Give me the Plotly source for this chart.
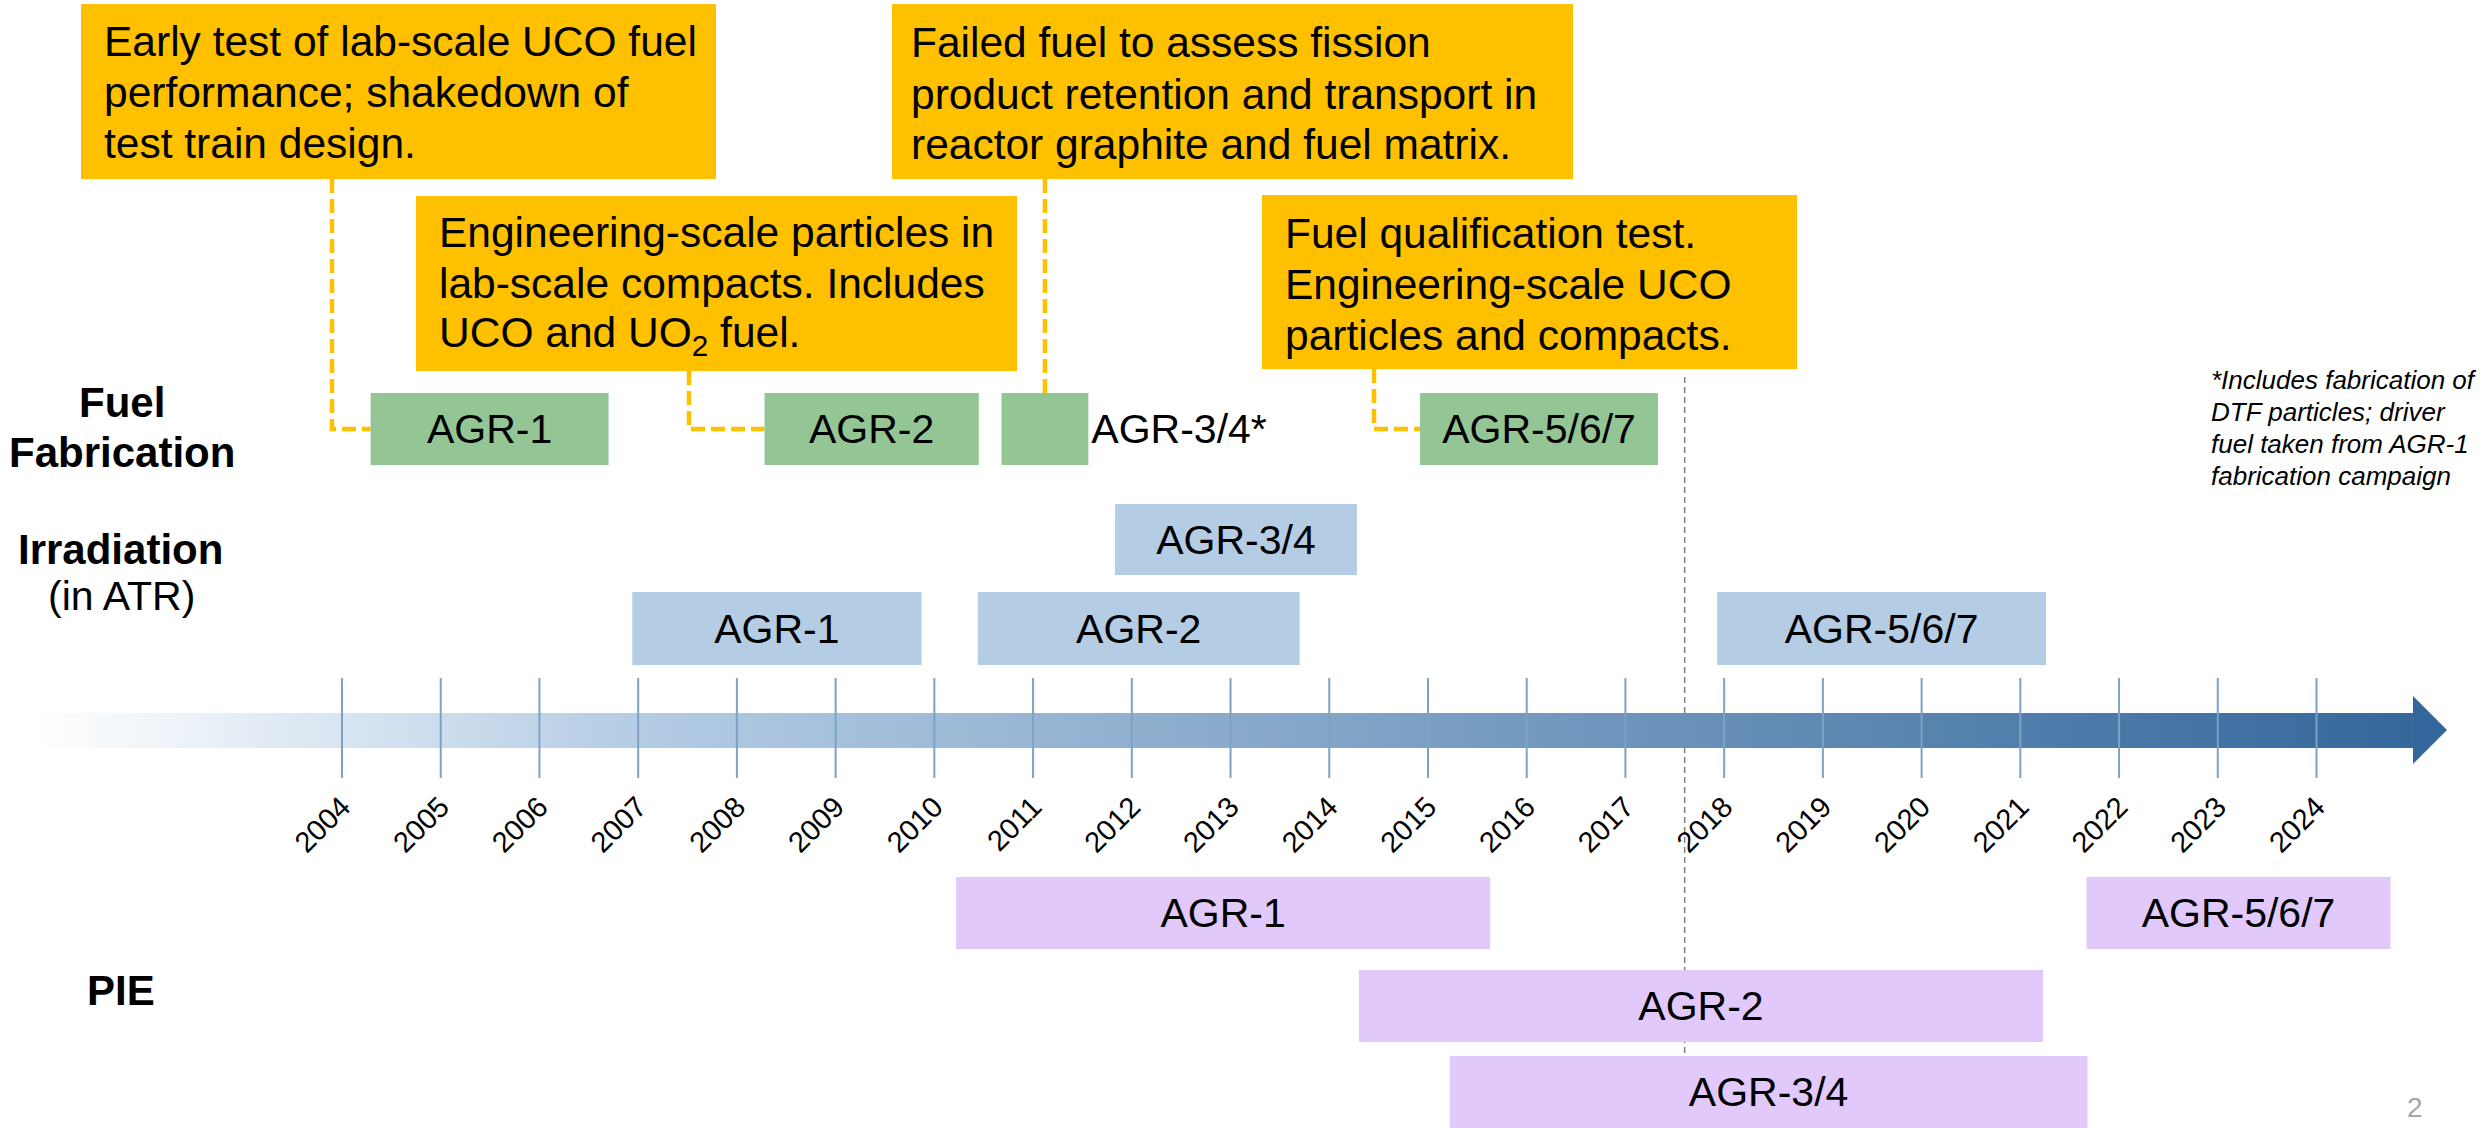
import plotly.graph_objects as go

# ---------------- data ----------------
programs = ["AGR-1", "AGR-2", "AGR-3/4", "AGR-5/6/7"]
fab_labels = ["AGR-1", "AGR-2", "AGR-3/4*", "AGR-5/6/7"]
fab_start = [2004.29, 2008.28, 2010.68, 2014.92]
fab_end = [2006.70, 2010.45, 2011.56, 2017.33]
irr_start = [2006.94, 2010.44, 2011.83, 2017.93]
irr_end = [2009.87, 2013.70, 2014.28, 2021.26]
irr_lane = [0, 0, 1, 0]
pie_start = [2010.22, 2014.30, 2015.22, 2021.67]
pie_end = [2015.63, 2021.23, 2021.68, 2024.75]
pie_lane = [0, 1, 2, 0]
years = list(range(2004, 2025))
year_labels = [str(y) for y in years]
today = 2017.60

callout_texts = [
    ["Early test of lab-scale UCO fuel", "performance; shakedown of", "test train design."],
    ["Engineering-scale particles in", "lab-scale compacts. Includes", "UCO and UO<sub>2</sub> fuel."],
    ["Failed fuel to assess fission", "product retention and transport in", "reactor graphite and fuel matrix."],
    ["Fuel qualification test.", "Engineering-scale UCO", "particles and compacts."],
]
callout_target = [0, 1, 2, 3]
footnote = ["*Includes fabrication of", "DTF particles; driver", "fuel taken from AGR-1", "fabrication campaign"]

# ---------------- layout geometry ----------------
W, H = 2483, 1128
PPY = 98.725                     # pixels per year
X0 = 2004 - 342 / PPY            # left edge of figure in year units
X1 = X0 + W / PPY
def X(px):
    return X0 + px / PPY

FONT = "Liberation Sans, Arial, sans-serif"
FAB_ROW = (393, 465)
IRR_ROWS = [(592, 665), (504, 575)]
PIE_ROWS = [(877, 949), (970, 1042), (1056, 1128)]
ARROW_BODY = (713, 748)
ARROW_HEAD = (696, 764)
ARROW_X = (31, 2413, 2447)
TICK_Y = (678, 778)

GREEN = "#93C595"
BLUE = "#B4CCE4"
PURPLE = "#E2C9FB"
YELLOW = "#FFC000"

fig = go.Figure()

# gradient arrow body (heatmap)
n = 400
x_edges = [X(ARROW_X[0] + (ARROW_X[1] - ARROW_X[0]) * i / n) for i in range(n + 1)]
z_row = [((ARROW_X[0] + (ARROW_X[1] - ARROW_X[0]) * (i + 0.5) / n) - ARROW_X[0]) / (ARROW_X[2] - ARROW_X[0]) for i in range(n)]
fig.add_trace(go.Heatmap(
    x=x_edges, y=[ARROW_BODY[0], ARROW_BODY[1]], z=[z_row],
    zmin=0, zmax=1, showscale=False, hoverinfo="skip",
    colorscale=[[0, "#FFFFFF"], [0.25, "#B4CCE4"], [1, "#33669A"]],
))

# year tick lines
tx, ty = [], []
for yv in years:
    tx += [yv, yv, None]
    ty += [TICK_Y[0], TICK_Y[1], None]
fig.add_trace(go.Scatter(x=tx, y=ty, mode="lines", line=dict(color="#7DA3C4", width=2),
                         hoverinfo="skip", showlegend=False))

def add_bars(starts, ends, rows, lanes, color, labels, positions):
    centers = [(rows[l][0] + rows[l][1]) / 2 for l in lanes]
    heights = [rows[l][1] - rows[l][0] for l in lanes]
    fig.add_trace(go.Bar(
        orientation="h", base=starts, x=[e - s for s, e in zip(starts, ends)],
        y=centers, width=heights, marker=dict(color=color, line=dict(width=0)),
        text=labels, textposition=positions, insidetextanchor="middle", textangle=0,
        textfont=dict(family=FONT, size=41, color="black"),
        outsidetextfont=dict(family=FONT, size=41, color="black"),
        insidetextfont=dict(family=FONT, size=41, color="black"),
        cliponaxis=False, hoverinfo="skip", showlegend=False,
    ))

add_bars(fab_start, fab_end, [FAB_ROW], [0] * 4, GREEN, fab_labels,
         ["inside", "inside", "outside", "inside"])
add_bars(irr_start, irr_end, IRR_ROWS, irr_lane, BLUE, programs, ["inside"] * 4)
add_bars(pie_start, pie_end, PIE_ROWS, pie_lane, PURPLE, programs, ["inside"] * 4)

shapes = []
annotations = []

# "today" dashed line (behind everything)
shapes.append(dict(type="line", xref="x", yref="y", x0=today, x1=today, y0=377, y1=H,
                   line=dict(color="#808080", width=1.5, dash="6px,4px"), layer="below"))

# arrow head
hx0, hx1 = X(ARROW_X[1]), X(ARROW_X[2])
shapes.append(dict(type="path", xref="x", yref="y",
                   path=f"M {hx0},{ARROW_HEAD[0]} L {hx1},{(ARROW_HEAD[0]+ARROW_HEAD[1])/2} L {hx0},{ARROW_HEAD[1]} Z",
                   fillcolor="#33669A", line=dict(width=0), layer="above"))

# callout boxes
callout_boxes = [
    dict(x0=81, x1=716, y0=4, y1=179, tx=102, lines=[41, 92, 143], cx=332),
    dict(x0=416, x1=1017, y0=196, y1=371, tx=437, lines=[232, 283, 335], cx=689),
    dict(x0=892, x1=1573, y0=4, y1=179, tx=909, lines=[42, 94, 144], cx=None),
    dict(x0=1262, x1=1797, y0=195, y1=369, tx=1283, lines=[233, 284, 335], cx=1374),
]
fab_center_y = (FAB_ROW[0] + FAB_ROW[1]) / 2
dash_style = dict(color=YELLOW, width=4.5, dash="14px,6px")
for box, texts, tgt in zip(callout_boxes, callout_texts, callout_target):
    shapes.append(dict(type="rect", xref="x", yref="y", x0=X(box["x0"]), x1=X(box["x1"]),
                       y0=box["y0"], y1=box["y1"], fillcolor=YELLOW, line=dict(width=0), layer="below"))
    for txt, ly in zip(texts, box["lines"]):
        annotations.append(dict(x=X(box["tx"]), y=ly, xref="x", yref="y", text=txt, showarrow=False,
                                xanchor="left", yanchor="middle",
                                font=dict(family=FONT, size=42.5, color="black")))
    if box["cx"] is None:
        cxv = (fab_start[tgt] + fab_end[tgt]) / 2
        shapes.append(dict(type="line", xref="x", yref="y", x0=cxv, x1=cxv, y0=box["y1"], y1=FAB_ROW[0],
                           line=dash_style, layer="below"))
    else:
        cxv = X(box["cx"])
        shapes.append(dict(type="path", xref="x", yref="y",
                           path=f"M {cxv},{box['y1']} L {cxv},{fab_center_y} L {fab_start[tgt]},{fab_center_y}",
                           line=dash_style, layer="below"))

# row labels
def label(text, px, py, bold=True, size=42):
    annotations.append(dict(x=X(px), y=py, xref="x", yref="y",
                            text=f"<b>{text}</b>" if bold else text, showarrow=False,
                            xanchor="center", yanchor="middle",
                            font=dict(family=FONT, size=size, color="black")))

label("Fuel", 122, 402)
label("Fabrication", 122, 452)
label("Irradiation", 120, 549)
label("(in ATR)", 121, 596, bold=False, size=41)
label("PIE", 121, 990)

# footnote
for txt, ly in zip(footnote, [380, 412, 444, 476]):
    annotations.append(dict(x=X(2209), y=ly, xref="x", yref="y", text=f"<i>{txt}</i>", showarrow=False,
                            xanchor="left", yanchor="middle",
                            font=dict(family=FONT, size=26, color="black")))

# page number
annotations.append(dict(x=X(2415), y=1107, xref="x", yref="y", text="2", showarrow=False,
                        xanchor="center", yanchor="middle",
                        font=dict(family=FONT, size=28, color="#A6A6A6")))

AXIS_Y = 783
fig.update_layout(
    width=W, height=H, margin=dict(l=0, r=0, t=0, b=0),
    paper_bgcolor="white", plot_bgcolor="white",
    barmode="overlay", showlegend=False,
    shapes=shapes, annotations=annotations,
    xaxis=dict(range=[X0, X1], showgrid=False, zeroline=False, showline=False, ticks="",
               tickmode="array", tickvals=years, ticktext=year_labels, tickangle=-45,
               tickfont=dict(family=FONT, size=29, color="black"),
               anchor="free", position=(H - AXIS_Y) / H, side="bottom", fixedrange=True),
    yaxis=dict(range=[H, 0], visible=False, fixedrange=True),
)

fig.write_html("out.html", config={"displayModeBar": False},
               post_script="document.body.style.margin='0';document.body.style.overflow='hidden';")
